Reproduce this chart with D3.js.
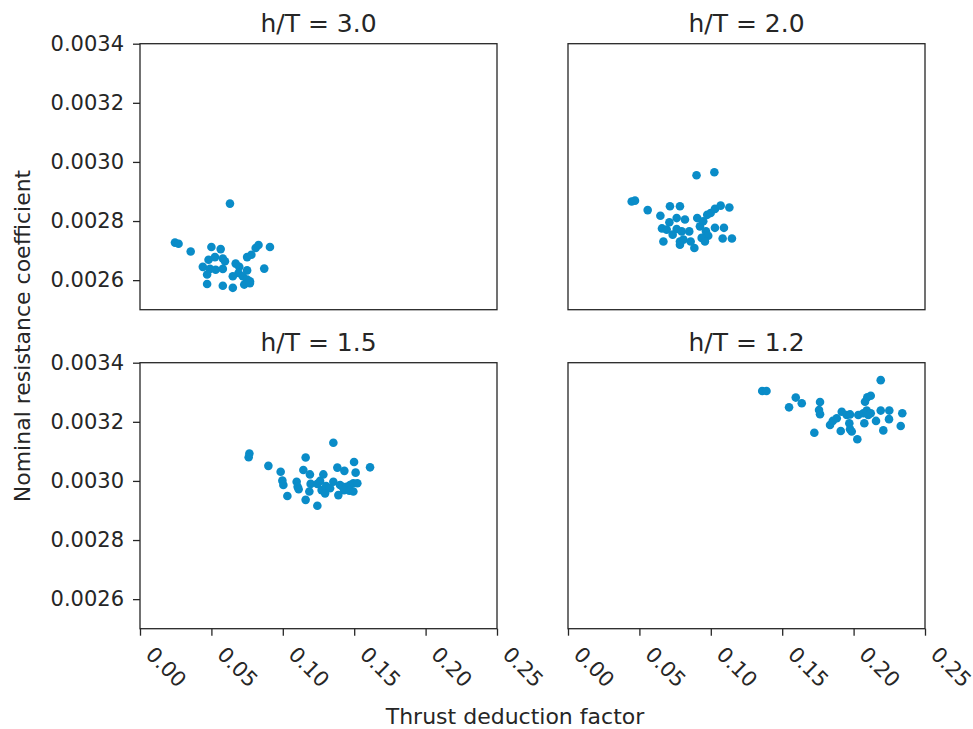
<!DOCTYPE html>
<html>
<head>
<meta charset="utf-8">
<script src="https://cdn.jsdelivr.net/npm/d3@7"></script>
<style>
  body { margin: 0; background: #fff; }
  text { font-family: "DejaVu Sans", sans-serif; fill: #262626; }
</style>
</head>
<body>
<div id="chart"></div>
<script>
// depth ratios for the four panels
const depthRatios = ["3.0", "2.0", "1.5", "1.2"]

// thrust deduction factor (x) and nominal resistance coefficient (y)
const tdf30 = [0.063, 0.0245, 0.027, 0.0355, 0.050, 0.0565, 0.048, 0.0525, 0.058, 0.0595, 0.044, 0.049, 0.053, 0.058,
  0.067, 0.0695, 0.075, 0.069, 0.065, 0.072, 0.075, 0.077, 0.047, 0.047, 0.058, 0.065, 0.073, 0.077, 0.075, 0.078,
  0.081, 0.083, 0.091, 0.087]
const rc30 = [0.002859, 0.002727, 0.002723, 0.002697, 0.002712, 0.002705, 0.002669, 0.002678, 0.002673, 0.002664,
  0.002645, 0.002638, 0.002635, 0.002638, 0.002656, 0.002645, 0.002633, 0.002624, 0.002613, 0.002613, 0.002602,
  0.002596, 0.002619, 0.002587, 0.002581, 0.002574, 0.002585, 0.002590, 0.002678, 0.002686, 0.002709, 0.002719,
  0.002712, 0.002639]

const tdf20 = [0.090, 0.1025, 0.0446, 0.0469, 0.0558, 0.0647, 0.0714, 0.0784, 0.071, 0.0761, 0.0819, 0.0658, 0.0691,
  0.0761, 0.0796, 0.0733, 0.0849, 0.0905, 0.0924, 0.0947, 0.0975, 0.0999, 0.1029, 0.1069, 0.113, 0.1029, 0.1092,
  0.0966, 0.0982, 0.0936, 0.1083, 0.1148, 0.0668, 0.0784, 0.0808, 0.0859, 0.0885, 0.0784, 0.0959]
const rc20 = [0.002955, 0.002965, 0.002866, 0.002869, 0.002837, 0.002818, 0.002850, 0.002850, 0.002796, 0.002810,
  0.002805, 0.002775, 0.002771, 0.002773, 0.002765, 0.002754, 0.002765, 0.002810, 0.002782, 0.002799, 0.002821,
  0.002827, 0.002841, 0.002852, 0.002846, 0.002777, 0.002777, 0.002765, 0.002750, 0.002743, 0.002741, 0.002741,
  0.002731, 0.002731, 0.002737, 0.002731, 0.002709, 0.002720, 0.002731]

const tdf15 = [0.1354, 0.0766, 0.0761, 0.0899, 0.0985, 0.0997, 0.1004, 0.1032, 0.1097, 0.1104, 0.1111, 0.116, 0.1144,
  0.119, 0.1195, 0.1186, 0.116, 0.1242, 0.1242, 0.1261, 0.1284, 0.1272, 0.1303, 0.1296, 0.1331, 0.1354, 0.1382,
  0.1431, 0.1401, 0.1419, 0.1447, 0.1471, 0.1494, 0.1522, 0.1429, 0.1466, 0.1494, 0.1389, 0.1499, 0.151, 0.1611]
const rc15 = [0.003129, 0.003093, 0.003080, 0.003051, 0.003031, 0.003001, 0.002986, 0.002949, 0.002997, 0.002980,
  0.002972, 0.003079, 0.003037, 0.003022, 0.002990, 0.002964, 0.002936, 0.002916, 0.002990, 0.003000, 0.003022,
  0.002969, 0.002983, 0.002958, 0.002975, 0.002997, 0.003045, 0.003034, 0.002986, 0.002980, 0.002980, 0.002986,
  0.002992, 0.002992, 0.002969, 0.002967, 0.002964, 0.002952, 0.003064, 0.003028, 0.003046]

const tdf12 = [0.219, 0.1548, 0.1595, 0.1637, 0.1765, 0.1758, 0.1765, 0.1725, 0.1835, 0.1854, 0.1882, 0.1917, 0.1952,
  0.1975, 0.191, 0.197, 0.1975, 0.1987, 0.2026, 0.2033, 0.2068, 0.2075, 0.2092, 0.208, 0.2096, 0.212, 0.2103,
  0.212, 0.2157, 0.219, 0.225, 0.2248, 0.2208, 0.2341, 0.233, 0.136, 0.139]
const rc12 = [0.003341, 0.003249, 0.003282, 0.003263, 0.003267, 0.003240, 0.003226, 0.003163, 0.003189, 0.003203,
  0.003212, 0.003234, 0.003223, 0.003225, 0.003169, 0.003195, 0.003175, 0.003167, 0.003141, 0.003223, 0.003229,
  0.003195, 0.003238, 0.003268, 0.003283, 0.003288, 0.003223, 0.003229, 0.003203, 0.003238, 0.003238, 0.003209,
  0.003171, 0.003229, 0.003186, 0.003304, 0.003304]

const xTicks = [0, 0.05, 0.10, 0.15, 0.20, 0.25]
const yTicks = [0.0026, 0.0028, 0.0030, 0.0032, 0.0034]

const panelX = [tdf30, tdf20, tdf15, tdf12]
const panelY = [rc30, rc20, rc15, rc12]

// layout of the 2x2 grid
const WIDTH = 973
const HEIGHT = 729
const PW = 357
const PH = 266
const COLS = [140, 568]
const ROWS = [43.7, 362.7]
const DOT = "#0a8cc8"

const svg = d3.select("#chart")
    .append("svg")
    .attr("width", WIDTH)
    .attr("height", HEIGHT)

const x = d3.scaleLinear().domain([0, 0.25]).range([0, PW])
const y = d3.scaleLinear().domain([0.0025, 0.0034]).range([PH, 0])

depthRatios.forEach((ratio, i) => {
    const col = i % 2
    const row = Math.floor(i / 2)

    const g = svg.append("g")
        .attr("transform", "translate(" + COLS[col] + "," + ROWS[row] + ")")

    // points
    const pts = panelX[i].map((v, j) => ({ t: v, c: panelY[i][j] }))
    g.append("g")
        .selectAll("circle")
        .data(pts)
        .enter()
        .append("circle")
        .attr("cx", d => x(d.t))
        .attr("cy", d => y(d.c))
        .attr("r", 4.3)
        .attr("fill", DOT)

    // frame
    g.append("rect")
        .attr("width", PW)
        .attr("height", PH)
        .attr("fill", "none")
        .attr("stroke", "#262626")
        .attr("stroke-width", 1.3)

    // title
    g.append("text")
        .attr("x", PW / 2)
        .attr("y", -11.5)
        .attr("text-anchor", "middle")
        .style("font-size", "25px")
        .text("h/T = " + ratio)

    // y axis only on left column
    if (col === 0) {
        const yAxis = g.append("g")
            .call(d3.axisLeft(y).tickValues(yTicks).tickFormat(d3.format(".4f")).tickSize(7).tickPadding(9))
        yAxis.select(".domain").remove()
        yAxis.selectAll("line").attr("stroke", "#262626").attr("stroke-width", 1.3)
        yAxis.selectAll("text").style("font-size", "21px").attr("fill", "#262626")
            .style("font-family", "DejaVu Sans")
    }

    // x axis only on bottom row
    if (row === 1) {
        const xAxis = g.append("g")
            .attr("transform", "translate(0," + PH + ")")
            .call(d3.axisBottom(x).tickValues(xTicks).tickFormat(d3.format(".2f")).tickSize(7))
        xAxis.select(".domain").remove()
        xAxis.selectAll("line").attr("stroke", "#262626").attr("stroke-width", 1.3)
        xAxis.selectAll("text")
            .attr("y", 0)
            .attr("dy", null)
            .attr("text-anchor", "start")
            .attr("transform", "translate(4,27) rotate(45)")
            .style("font-size", "21px")
            .style("font-family", "DejaVu Sans")
            .attr("fill", "#262626")
    }
})

// shared axis labels
svg.append("text")
    .attr("x", 515)
    .attr("y", 724)
    .attr("text-anchor", "middle")
    .style("font-size", "22px")
    .text("Thrust deduction factor")

svg.append("text")
    .attr("transform", "translate(30,336) rotate(-90)")
    .attr("text-anchor", "middle")
    .style("font-size", "22px")
    .text("Nominal resistance coefficient")
</script>
</body>
</html>
